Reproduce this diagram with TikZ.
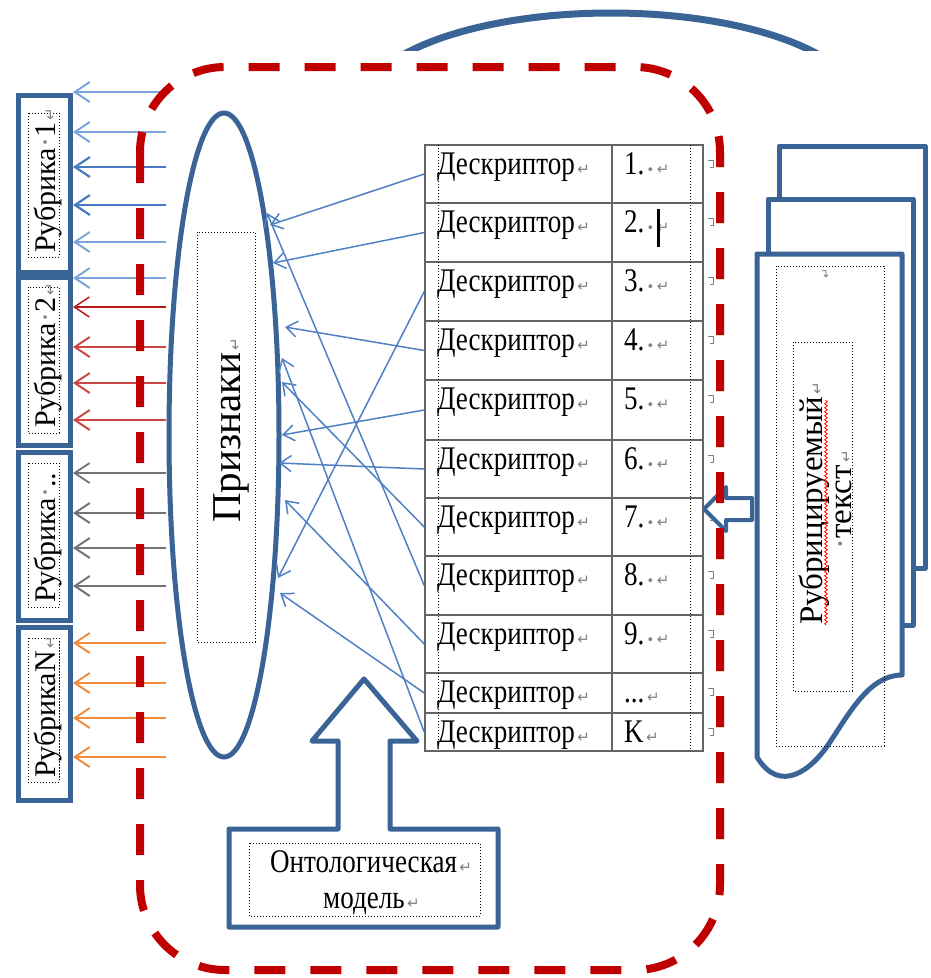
\documentclass[tikz,border=0pt]{standalone}
\usepackage{fontspec}
\setmainfont{Liberation Serif}
\newfontfamily\condf[FakeStretch=0.82]{Liberation Serif}
\newfontfamily\symf{DejaVu Sans}
\usetikzlibrary{arrows.meta,shapes.geometric,decorations.pathmorphing}
\definecolor{docblue}{RGB}{58,99,150}
\definecolor{linkblue}{RGB}{79,129,196}
\definecolor{lblue}{RGB}{125,165,218}
\definecolor{dblue}{RGB}{72,122,192}
\definecolor{rubred}{RGB}{205,70,70}
\definecolor{rubdred}{RGB}{185,25,25}
\definecolor{rubgray}{RGB}{115,115,115}
\definecolor{ruborange}{RGB}{240,140,60}
\definecolor{dashred}{RGB}{192,0,0}
\definecolor{tablegray}{RGB}{100,100,100}
\definecolor{markgray}{RGB}{128,128,128}
\newcommand\parmk{{\color{markgray}\symf\fontsize{15}{15}\selectfont\,↵}}
\newcommand\spdt{{\color{markgray}\symf\fontsize{13}{13}\selectfont\,•}}
\newcommand\midd{{\color{markgray}·}}
\newcommand\tdots{...}
\begin{document}
\begin{tikzpicture}[x=1pt,y=-1pt,
  rubbox/.style={draw=docblue, line width=5pt, minimum width=52pt, inner sep=0pt},
  dotbox/.style={draw=black, line width=1pt, dash pattern=on 1pt off 2pt},
  rtext/.style={rotate=90, anchor=base west, inner sep=0pt, font=\fontsize{30}{30}\selectfont},
  htext/.style={anchor=base west, inner sep=0pt, font=\condf\fontsize{33}{33}\selectfont},
  cellbox/.style={draw=tablegray, line width=1.5pt, inner sep=0pt},
  larrow/.style={line width=2pt, -{Straight Barb[length=15pt,width=20pt]}},
  link/.style={draw=linkblue, line width=1.5pt, -{Straight Barb[length=11pt,width=16pt]}},
  outl/.style={draw=docblue, line width=5pt, fill=white, line join=round}
]
\useasboundingbox (0,0) rectangle (930,978);
\fill[white] (0,0) rectangle (930,978);

% top arc
\begin{scope}
\clip (300,0) rectangle (900,50);
\draw[docblue, line width=7pt] (611,107) ellipse [x radius=250, y radius=94];
\end{scope}

% rubric boxes
\node[rubbox, minimum height=177pt] (rub1) at (44,183.5) {};
\node[rubbox, minimum height=168pt] (rub2) at (44,361) {};
\node[rubbox, minimum height=168pt] (rub3) at (44,536) {};
\node[rubbox, minimum height=173pt] (rub4) at (44,713.5) {};
\draw[dotbox] (28,113) rectangle (59,257);
\draw[dotbox] (28,287) rectangle (59,433);
\draw[dotbox] (28,463) rectangle (59,607);
\draw[dotbox] (28,638) rectangle (59,782);
\draw[dashred, line width=1pt, dash pattern=on 1pt off 2pt] (59,642) -- (59,780);
\node[rtext] (rt1) at (55,253) {Рубрика\midd1\parmk};
\node[rtext] (rt2) at (55,428) {Рубрика\midd2\parmk};
\node[rtext] (rt3) at (55,603) {Рубрика\midd..};
\node[rtext] (rt4) at (55,778) {РубрикаN\parmk};

% left arrows
\foreach \yy/\cc/\ww [count=\k] in {92/lblue/2, 132/lblue/2, 167/dblue/2.2, 205/dblue/2.2, 242/lblue/2, 278/lblue/2,
  307/rubdred/1.5, 347/rubred/2, 383/rubred/2, 420/rubred/2,
  473/rubgray/1.8, 513/rubgray/2, 548/rubgray/2, 586/rubgray/2,
  643/ruborange/2, 683/ruborange/2, 718/ruborange/2, 757/ruborange/2} {
  \coordinate (ls\k) at (166,\yy);
  \coordinate (lt\k) at (73,\yy);
  \draw[larrow, draw=\cc, line width=\ww pt] (ls\k) -- (lt\k);
}

% ellipse
\node[draw=docblue, line width=5pt, ellipse, fill=white, minimum width=110pt, minimum height=644pt, inner sep=0pt] (ell) at (224,435) {};
\draw[dotbox] (197,232) rectangle (255,642);
\node[rotate=90, anchor=base west, inner sep=0pt, font=\fontsize{41}{41}\selectfont] (ptext) at (240,523) {Признаки\parmk};

% table
\foreach \i/\t/\b/\lab in {1/145/203/1.\spdt, 2/203/262/2.\spdt, 3/262/321/3.\spdt, 4/321/380/4.\spdt,
  5/380/440/5.\spdt, 6/440/498/6.\spdt, 7/498/556/7.\spdt, 8/556/615/8.\spdt, 9/615/673/9.\spdt,
  10/673/713/\tdots, 11/713/751/K} {
  \pgfmathsetmacro\hh{\b-\t}
  \node[cellbox, minimum width=187pt, minimum height=\hh pt] (d\i) at (518.5,{(\t+\b)/2}) {};
  \node[cellbox, minimum width=91pt, minimum height=\hh pt] (n\i) at (657.5,{(\t+\b)/2}) {};
  \node[htext] (dt\i) at (437,{\t+29}) {Дескриптор\parmk};
  \node[htext] (nt\i) at (624,{\t+29}) {\lab\parmk};
  \draw[markgray, line width=1pt] (708,{\t+15}) -- (713,{\t+15}) -- (713,{\t+22}) -- (710,{\t+22});
}
\draw[dotbox] (438,145) -- (438,751);
\draw[dotbox] (690,145) -- (690,751);
\draw[line width=3pt] (658,209) -- (658,247);

% links table -> ellipse
\coordinate (e1) at (270,225);
\coordinate (e2) at (273,263);
\coordinate (e3) at (278,578);
\coordinate (e4) at (285,327);
\coordinate (e5) at (282,435);
\coordinate (e6) at (279,463);
\coordinate (e7) at (282,382);
\coordinate (e8) at (267,213);
\coordinate (e9) at (285,500);
\coordinate (e10) at (280,593);
\coordinate (e11) at (282,358);
\foreach \i in {1,2,3,4,5,6,7,8,9,10,11} { \draw[link] (d\i.west) -- (e\i); }

% document stack
\draw[outl] (779,146) rectangle (925,568);
\draw[outl] (768,199) rectangle (913,625);
\draw[outl] (757,254) -- (902,254) -- (902,675) .. controls (870,675) and (850,712) .. (830,742) .. controls (812,770) and (780,795) .. (757,757) -- cycle;
\draw[dotbox] (776,266) rectangle (884,746);
\draw[dotbox] (793,342) rectangle (852,691);
\node[rotate=90, inner sep=0pt, font=\fontsize{12}{12}\selectfont] (dm) at (826,273) {\color{markgray}\symf ↵};
\node[rotate=90, anchor=base west, inner sep=0pt, font=\fontsize{33}{33}\selectfont] (doct1) at (822,625) {Рубрицируемый\parmk};
\node[rotate=90, anchor=base west, inner sep=0pt, font=\fontsize{33}{33}\selectfont] (doct2) at (851,550) {\midd текст\parmk};
\draw[red, line width=0.8pt, decorate, decoration={snake, amplitude=1.3pt, segment length=4pt}] (826,625) -- (826,400);

% block arrow from document to table
\draw[outl, line width=4pt] (704,509) -- (726,487) -- (726,498) -- (752,498) -- (752,520) -- (726,520) -- (726,531) -- cycle;

% ontology model callout
\draw[outl] (229,829) -- (338,829) -- (338,741) -- (312,741) -- (364,679) -- (417,741) -- (390,741) -- (390,829) -- (498,829) -- (498,927) -- (229,927) -- cycle;
\draw[dotbox] (249,843) rectangle (480,916);
\node[htext] (ot1) at (270,872) {Онтологическая\parmk};
\node[htext] (ot2) at (323,908) {модель\parmk};

% red dashed frame
\draw[dashred, line width=8pt, dash pattern=on 31pt off 25pt, rounded corners=85pt] (140,67) rectangle (720,970);
\end{tikzpicture}
\end{document}
